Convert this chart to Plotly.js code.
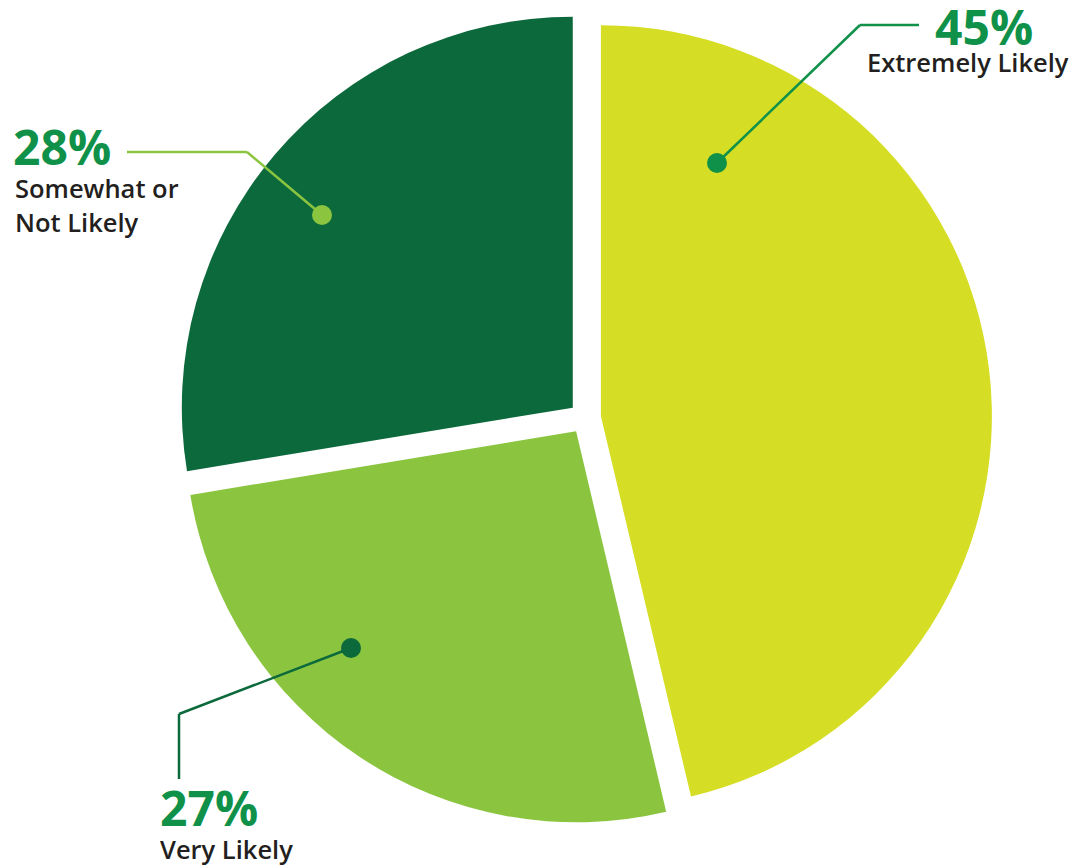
<!DOCTYPE html>
<html>
<head>
<meta charset="utf-8">
<script src="https://cdn.plot.ly/plotly-3.0.1.min.js"></script>
<style>html,body{margin:0;padding:0;background:#fff;}#chart{width:1088px;height:867px;}</style>
</head>
<body>
<div id="chart"></div>
<script>
// ---- data ----
const categories = ['Extremely Likely', 'Very Likely', 'Somewhat or Not Likely'];
const values = [46.3, 26.1, 27.6];
// percentage labels as printed on the chart
const pctLabels = ['45%', '27%', '28%'];
const labelLines = [['Extremely Likely'], ['Very Likely'], ['Somewhat or', 'Not Likely']];
const sliceColors = ['#d5de24', '#8bc540', '#0c693b'];

// ---- layout helpers (pixel -> paper) ----
const W = 1088, H = 867;
const px = x => x / W;
const py = y => 1 - y / H;

const pctColor = '#10914a';
const txtColor = '#231f20';
const pctSize = 48, lblSize = 25.5;
const pctFont = {family: 'Open Sans', size: pctSize, color: pctColor, weight: 700};
const lblFont = {family: 'Open Sans', size: lblSize, color: txtColor, weight: 600};

const trace = {
  type: 'pie',
  labels: categories,
  values: values,
  sort: false,
  direction: 'clockwise',
  rotation: 0,
  pull: [0.041, 0.041, 0.041],
  marker: {colors: sliceColors, line: {width: 0}},
  textinfo: 'none',
  hoverinfo: 'label',
  showlegend: false,
  domain: {x: [px(585 - 407), px(585 + 407)], y: [py(418 + 407), py(418 - 407)]}
};

// place text by its baseline (pixel), using Open Sans ascent/descent metrics
function ann(text, x, baseline, xanchor, font, boxH) {
  const center = baseline - (1.069 - 0.293) / 2 * font.size;
  return {text: text, x: px(x), y: py(center), xref: 'paper', yref: 'paper',
          xanchor: xanchor, yanchor: 'middle', height: boxH, valign: 'middle',
          showarrow: false, font: font, align: 'left'};
}

const annotations = [
  ann(pctLabels[0], 1035, 45, 'right', pctFont, 44),
  ann(labelLines[0][0], 1071, 72, 'right', lblFont, 32),
  ann(pctLabels[2], 11, 165, 'left', pctFont, 44),
  ann(labelLines[2][0], 13, 198, 'left', lblFont, 32),
  ann(labelLines[2][1], 13, 232, 'left', lblFont, 32),
  ann(pctLabels[1], 158, 826, 'left', pctFont, 44),
  ann(labelLines[1][0], 158, 859, 'left', lblFont, 32)
];

function seg(x0, y0, x1, y1, color) {
  return {type: 'line', xref: 'paper', yref: 'paper', x0: px(x0), y0: py(y0), x1: px(x1), y1: py(y1),
          line: {color: color, width: 2.5}};
}
function dot(x, y, r, color) {
  return {type: 'circle', xref: 'paper', yref: 'paper', x0: px(x - r), x1: px(x + r), y0: py(y + r), y1: py(y - r),
          fillcolor: color, line: {width: 0}};
}

const shapes = [
  seg(919, 25, 860, 25, pctColor), seg(860, 25, 717, 163, pctColor), dot(717, 163, 10, pctColor),
  seg(127, 152, 247, 152, sliceColors[1]), seg(247, 152, 322, 215, sliceColors[1]), dot(322, 215, 10, sliceColors[1]),
  seg(179, 779, 179, 714, sliceColors[2]), seg(179, 714, 351, 648, sliceColors[2]), dot(351, 648, 10, sliceColors[2])
];

const layout = {
  width: W, height: H,
  margin: {l: 0, r: 0, t: 0, b: 0},
  paper_bgcolor: '#ffffff',
  plot_bgcolor: '#ffffff',
  showlegend: false,
  annotations: annotations,
  shapes: shapes
};

Plotly.newPlot('chart', [trace], layout, {displayModeBar: false, staticPlot: true});
</script>
</body>
</html>
